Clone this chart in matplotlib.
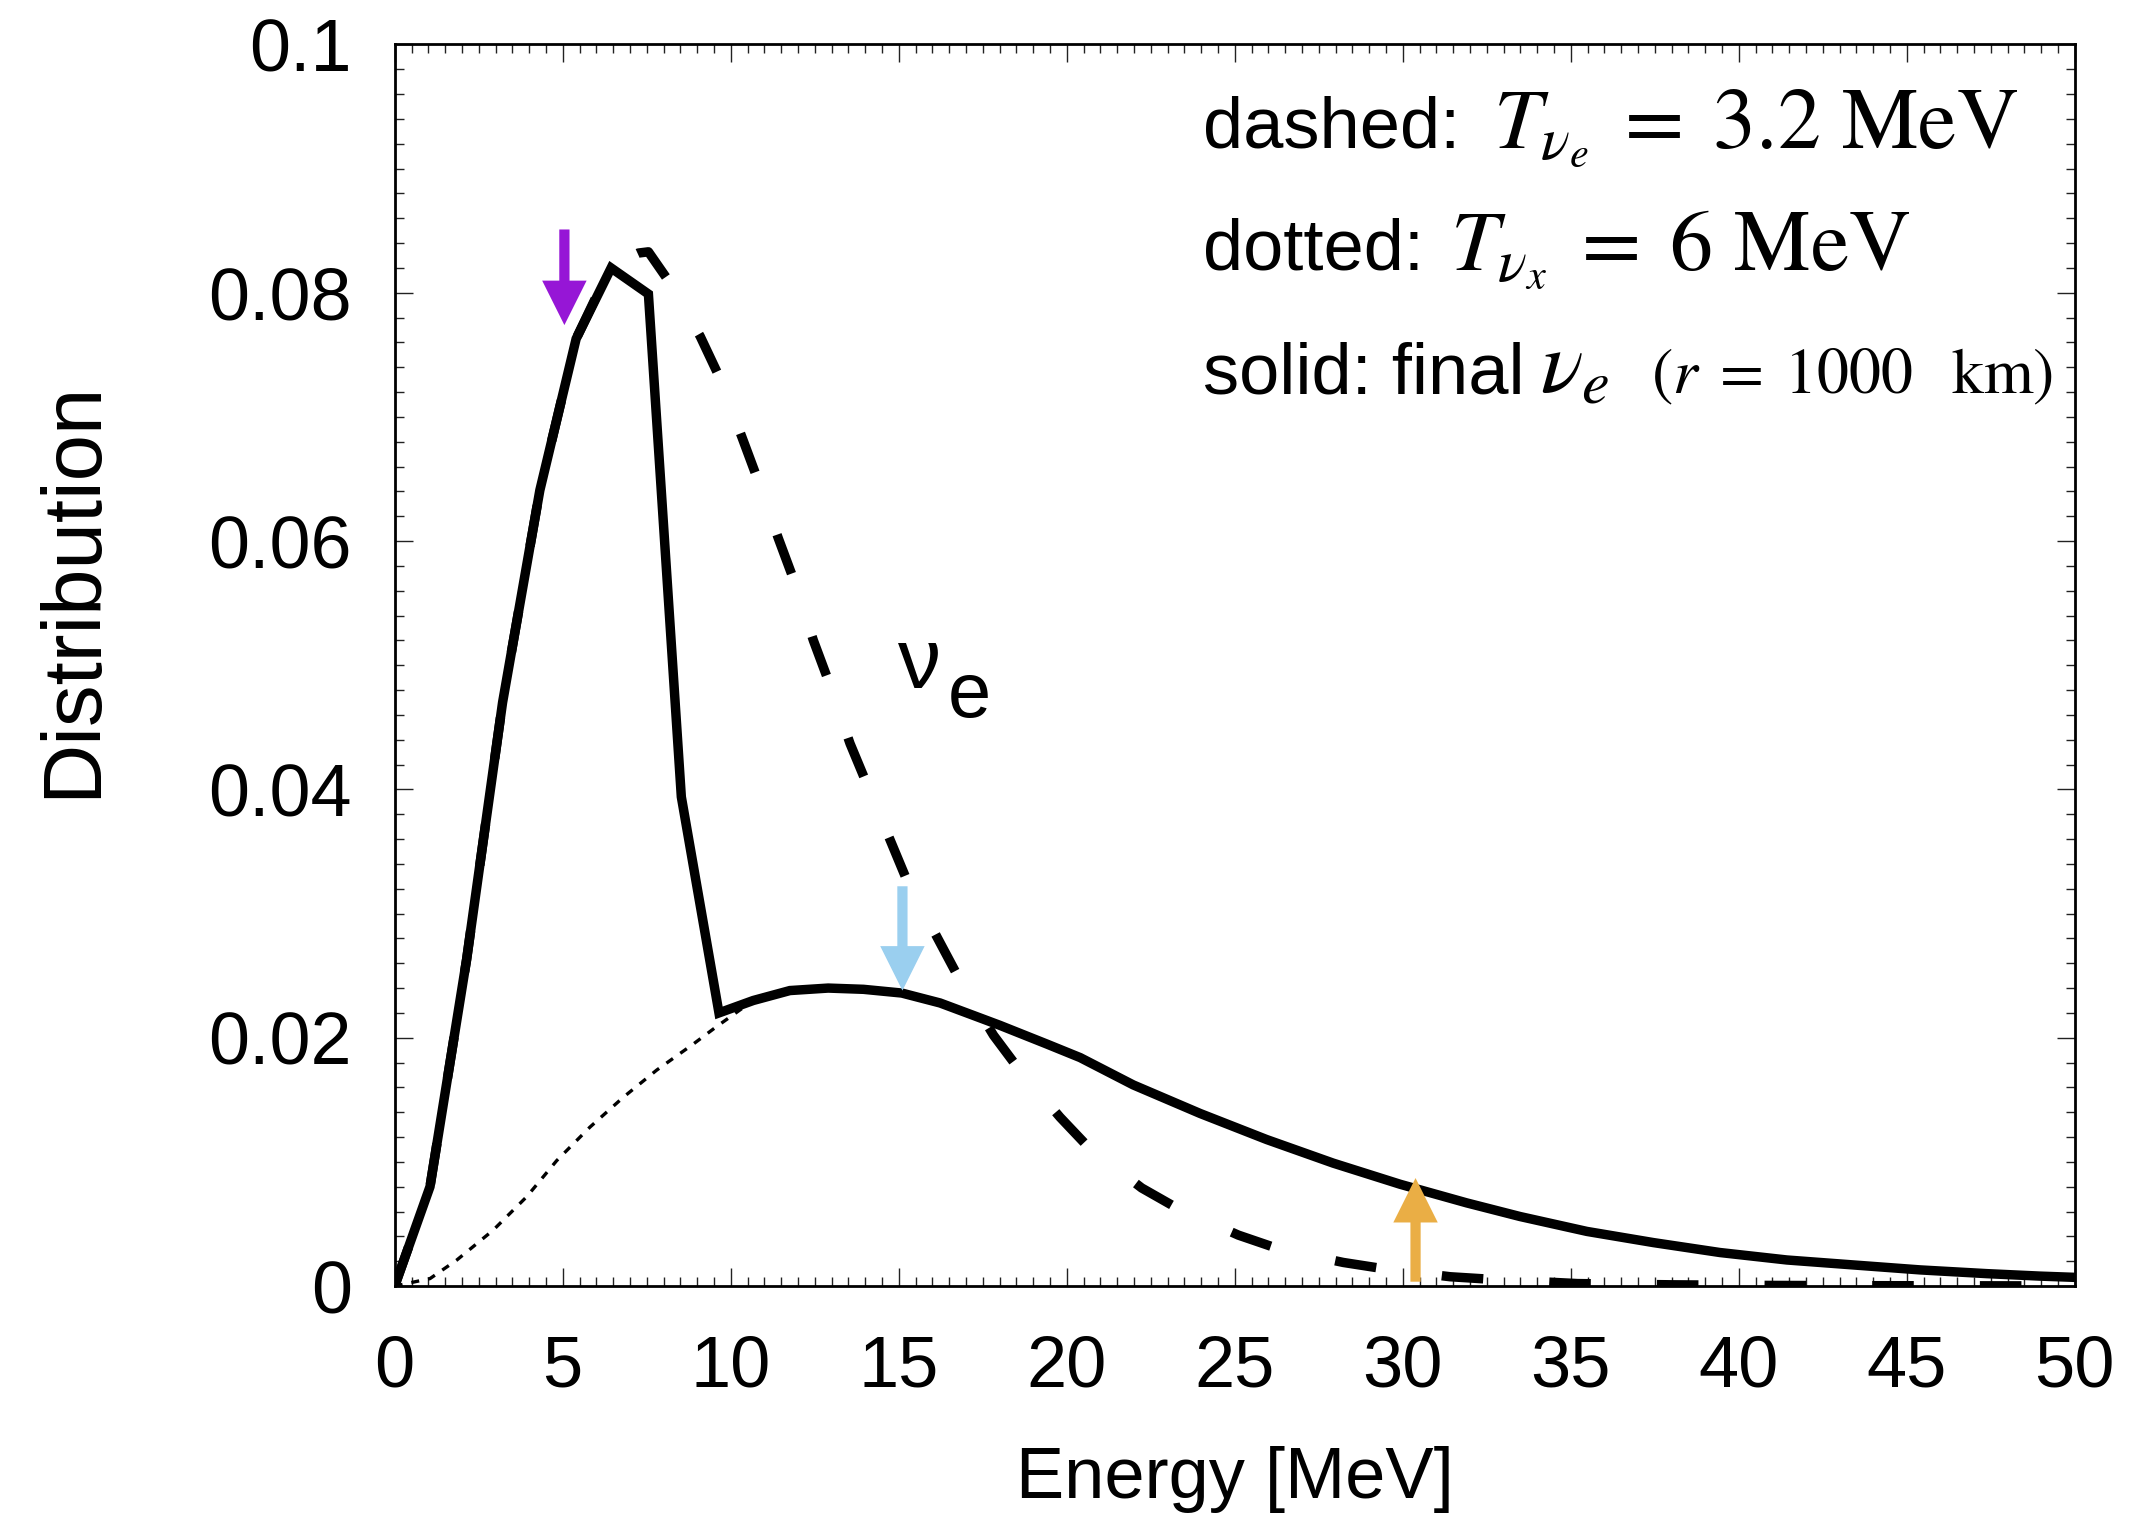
"""
nu_e spectrum after collective swap: initial nu_e (dashed), nu_x (dotted),
final nu_e at r = 1000 km (solid).
"""

import numpy as np
import matplotlib.pyplot as plt
from matplotlib.ticker import MultipleLocator

# ── Data ──────────────────────────────────────────────────────
# solid: final nu_e
solid_E = [0.0, 1.05, 2.14, 3.21, 4.32, 5.40, 6.44, 7.55, 8.53, 9.65,
           10.67, 11.76, 12.90, 13.95, 15.09, 16.23, 17.22, 18.01, 19.40,
           20.40, 21.98, 23.97, 25.95, 27.93, 29.92, 31.90, 33.49, 35.48,
           37.46, 39.44, 41.43, 43.41, 45.40, 47.38, 48.97, 50.0]
solid_f = [0.0, 0.0080, 0.0263, 0.0470, 0.0641, 0.0763, 0.0820, 0.0799,
           0.0394, 0.0220, 0.0230, 0.0238, 0.0240, 0.0239, 0.0236, 0.0228,
           0.0218, 0.0210, 0.0195, 0.0184, 0.0162, 0.0139, 0.0118, 0.0099,
           0.0082, 0.0067, 0.0056, 0.0044, 0.0035, 0.0027, 0.0021, 0.0017,
           0.0013, 0.0010, 0.0008, 0.0007]

# dashed: initial nu_e, T = 3.2 MeV
dashed_E = [0.0, 1.05, 2.14, 3.21, 4.32, 5.40, 6.44, 7.25, 7.55, 8.14,
            9.09, 9.63, 10.33, 10.77, 11.42, 11.86, 12.46, 12.90, 13.55,
            15.24, 16.18, 16.77, 17.82, 18.51, 19.80, 20.64, 22.23, 23.27,
            25.11, 26.30, 28.23, 29.42, 31.41, 32.65, 35.2, 38.0, 41.0,
            44.0, 47.0, 50.0]
dashed_f = [0.0, 0.0080, 0.0263, 0.0470, 0.0641, 0.0763, 0.0822, 0.0832,
            0.0833, 0.0810, 0.0765, 0.0734, 0.0684, 0.0652, 0.0602, 0.0570,
            0.0520, 0.0488, 0.0437, 0.0327, 0.0279, 0.0249, 0.0202, 0.0177,
            0.0136, 0.0112, 0.0079, 0.0063, 0.0041, 0.0030, 0.0019, 0.0014,
            0.00075, 0.00054, 0.0002, 0.0001, 0.00005, 0.00003, 0.00002,
            0.00001]

# dotted: nu_x, T = 6 MeV (low-energy part; above ~10 MeV it runs under solid)
dotted_E_low = [0.0, 1.05, 1.85, 2.93, 3.93, 4.82, 5.81, 6.80, 7.80, 8.89,
                9.58]
dotted_f_low = [0.0, 0.0006, 0.0021, 0.0045, 0.0072, 0.0101, 0.0128, 0.0152,
                0.0174, 0.0195, 0.0209]

# arrows: (energy, tail, tip)
arrow_E    = [5.05, 15.11, 30.38]
arrow_tail = [0.0851, 0.0322, 0.00035]
arrow_tip  = [0.0774, 0.0238, 0.0087]
arrow_cols = ['#9616d6', '#9acfef', '#eaae45']

x_ticks = np.arange(0, 51, 5)
y_ticks = [0, 0.02, 0.04, 0.06, 0.08, 0.1]

# ── Style ─────────────────────────────────────────────────────
plt.rcParams.update({
    'font.family': ['Liberation Sans', 'DejaVu Sans'],
    'font.size': 52,
    'axes.linewidth': 2.0,
})
W, H = 2137, 1513

fig = plt.figure(figsize=(W / 100, H / 100), dpi=100)
ax = fig.add_axes([0.1847, 0.1500, 0.7862, 0.8206])

# ── Curves ────────────────────────────────────────────────────
tail_mask = np.array(solid_E) >= 10.0
dotted_E = dotted_E_low + list(np.array(solid_E)[tail_mask])
dotted_f = dotted_f_low + list(np.array(solid_f)[tail_mask])

LW = 6.8  # pt
ax.plot(dotted_E, dotted_f, color='black', lw=2.4,
        dashes=(2.4, 2.7), dash_capstyle='butt', zorder=2)
ax.plot(dashed_E, dashed_f, color='black', lw=LW,
        dashes=(4.4, 7.0), dash_capstyle='butt', zorder=3)
ax.plot(solid_E, solid_f, color='black', lw=LW,
        solid_joinstyle='miter', zorder=4)

# ── Arrows ────────────────────────────────────────────────────
for e, t0, t1, c in zip(arrow_E, arrow_tail, arrow_tip, arrow_cols):
    ax.annotate('', xy=(e, t1), xytext=(e, t0),
                arrowprops=dict(arrowstyle='simple,head_length=1,'
                                'head_width=1,tail_width=0.23',
                                mutation_scale=32, color=c, lw=0,
                                shrinkA=0, shrinkB=0),
                zorder=6)

# ── Axes ──────────────────────────────────────────────────────
ax.set_xlim(0, 50)
ax.set_ylim(0, 0.1)
ax.set_xticks(x_ticks)
ax.set_yticks(y_ticks)
ax.xaxis.set_minor_locator(MultipleLocator(0.5))
ax.yaxis.set_minor_locator(MultipleLocator(0.002))
ax.yaxis.set_major_formatter(plt.FuncFormatter(lambda v, p: '%g' % v))
ax.tick_params(which='both', direction='in', top=True, right=True,
               width=1.0, color='#222222')
ax.tick_params(which='major', length=13)
ax.tick_params(which='minor', length=6.5)
ax.tick_params(axis='x', which='major', pad=35, labelsize=52)
ax.tick_params(axis='y', which='major', pad=31, labelsize=53)

fig.text(1235 / W, 1 - 1498 / H, 'Energy [MeV]', fontsize=52,
         ha='center', va='baseline')
fig.text(73 / W, 1 - 589.5 / H, 'Distribution', fontsize=60,
         rotation=90, ha='center', va='center')

# ── Labels inside ─────────────────────────────────────────────
ax.text(14.98, 0.0482, 'ν', fontsize=62, ha='left', va='baseline')
ax.text(16.47, 0.0458, 'e', fontsize=56, ha='left', va='baseline')

fig.text(1203 / W, 1 - 148 / H, 'dashed:', fontsize=52, va='baseline')
fig.text(1493 / W, 1 - 148 / H, r'$T_{\nu_e}\;=\;3.2\ \mathrm{MeV}$',
         fontsize=62, va='baseline', math_fontfamily='stix')
fig.text(1203 / W, 1 - 270 / H, 'dotted:', fontsize=52, va='baseline')
fig.text(1450 / W, 1 - 270 / H, r'$T_{\nu_x}\;=\;6\ \mathrm{MeV}$',
         fontsize=62, va='baseline', math_fontfamily='stix')
fig.text(1203 / W, 1 - 393 / H, 'solid: final', fontsize=52, va='baseline')
fig.text(1540 / W, 1 - 393 / H, r'$\nu_e$', fontsize=64, va='baseline',
         math_fontfamily='stix')
fig.text(1651 / W, 1 - 393 / H, r'$(r\;=\;1000\ \ \,\mathrm{km})$',
         fontsize=46, va='baseline', math_fontfamily='stix')

fig.savefig('out.png', dpi=100)
